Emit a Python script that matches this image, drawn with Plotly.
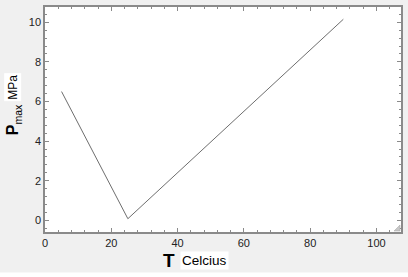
import plotly.graph_objects as go

# Data
temperature_c = [5, 25, 90]
pmax_mpa = [6.5, 0.08, 10.15]

x_tick_vals = [0, 20, 40, 60, 80, 100]
y_tick_vals = [0, 2, 4, 6, 8, 10]

W, H = 408, 277
L, R, T, B = 45, 5, 7, 45
pw, ph = W - L - R, H - T - B


def px_x(px):
    return (px - L) / pw


def px_y(py):
    return (H - B - py) / ph


fig = go.Figure()
fig.add_trace(go.Scatter(
    x=temperature_c, y=pmax_mpa, mode="lines",
    line=dict(color="#6e6e6e", width=1), hoverinfo="skip", showlegend=False,
))

axis_common = dict(
    showgrid=False, zeroline=False, showline=True, linecolor="#8a8a8a", linewidth=1.5,
    mirror="allticks", ticks="inside", ticklen=4, tickwidth=1, tickcolor="#8a8a8a",
    tickfont=dict(family="Liberation Sans, Arial", size=11, color="#222222"),
)

fig.update_xaxes(range=[0, 107.4], tickvals=x_tick_vals,
                 minor=dict(dtick=4, ticks="inside", ticklen=2, tickcolor="#8a8a8a", showgrid=False),
                 **axis_common)
fig.update_yaxes(range=[-0.59, 10.77], tickvals=y_tick_vals,
                 minor=dict(dtick=0.4, ticks="inside", ticklen=2, tickcolor="#8a8a8a", showgrid=False),
                 **axis_common)

font_family = "Liberation Sans, Arial"
annotations = [
    dict(text="<b>P</b><sub><span style='font-size:10.5px'>max</span></sub>",
         x=px_x(13), y=px_y(120), xref="paper", yref="paper",
         xanchor="center", yanchor="middle",
         showarrow=False, textangle=-90, font=dict(family=font_family, size=16, color="#000000")),
    dict(text="MPa", x=px_x(12.5), y=px_y(87), xref="paper", yref="paper",
         xanchor="center", yanchor="middle",
         showarrow=False, textangle=-90, bgcolor="#ffffff", borderpad=1,
         font=dict(family=font_family, size=12, color="#000000")),
    dict(text="<b>T</b>", x=px_x(170), y=px_y(260), xref="paper", yref="paper",
         xanchor="center", yanchor="middle",
         showarrow=False, font=dict(family=font_family, size=19, color="#000000")),
    dict(text="Celcius", x=px_x(205), y=px_y(260.5), xref="paper", yref="paper",
         xanchor="center", yanchor="middle",
         showarrow=False, bgcolor="#ffffff", borderpad=1,
         font=dict(family=font_family, size=13.5, color="#000000")),
]

shapes = [
    # white strip at the very bottom of the window
    dict(type="rect", xref="paper", yref="paper", x0=px_x(-5), x1=px_x(W + 5),
         y0=px_y(H + 5), y1=px_y(272.5), fillcolor="#ffffff", line=dict(width=0), layer="below"),
    # small resize grip in the lower right corner
    dict(type="path", xref="paper", yref="paper",
         path=f"M {px_x(402)},{px_y(225)} L {px_x(402)},{px_y(231)} L {px_x(396)},{px_y(231)} Z",
         fillcolor="#c8c8c8", line=dict(color="#a0a0a0", width=0.5)),
]

fig.update_layout(
    width=W, height=H, margin=dict(l=L, r=R, t=T, b=B),
    paper_bgcolor="#f0f0f0", plot_bgcolor="#ffffff",
    annotations=annotations, shapes=shapes, showlegend=False,
)

fig.write_html("out.html", config={"displayModeBar": False})
